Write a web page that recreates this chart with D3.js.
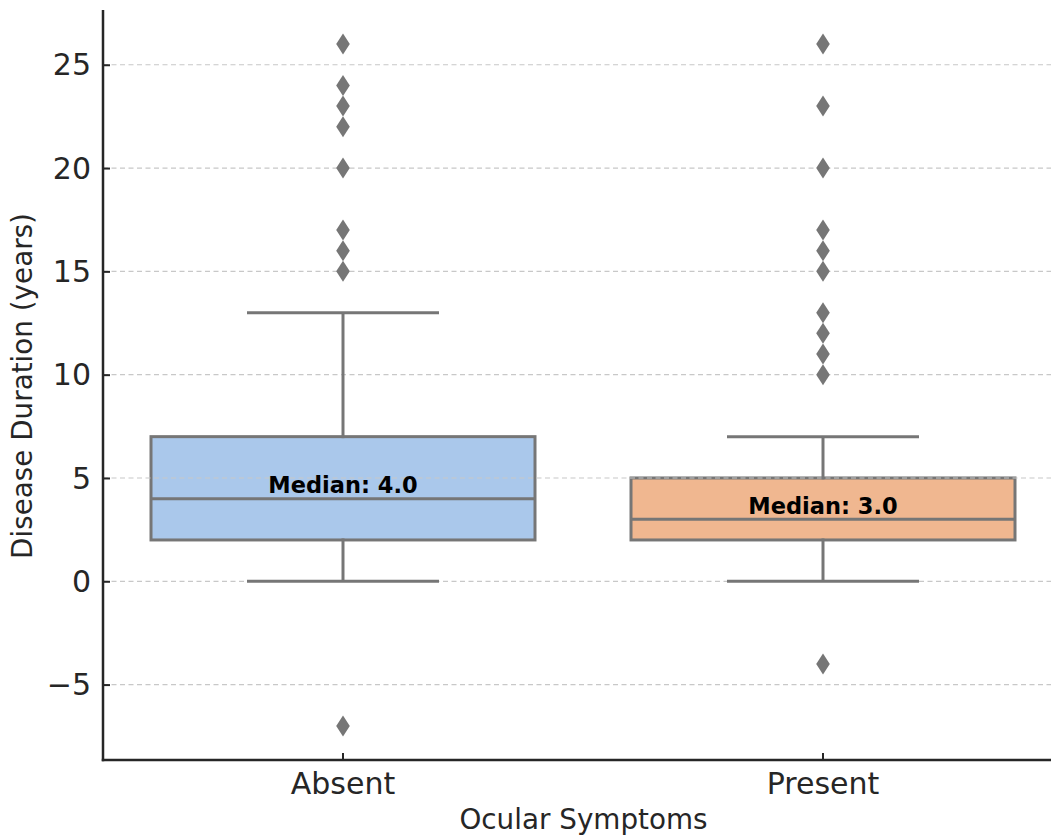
<!DOCTYPE html>
<html>
<head>
<meta charset="utf-8">
<script src="https://cdn.jsdelivr.net/npm/d3@7"></script>
<style>
  body { margin: 0; background: #fff; }
  svg text { font-family: "DejaVu Sans", sans-serif; fill: #262626; }
</style>
</head>
<body>
<svg id="chart" width="1051" height="837"></svg>
<script>
// chart data
const categories = ["Absent", "Present"]
const q1 = [2, 2]
const medians = [4, 3]
const q3 = [7, 5]
const whiskerLow = [0, 0]
const whiskerHigh = [13, 7]
const outliersAbsent = [26, 24, 23, 22, 20, 17, 16, 15, -7]
const outliersPresent = [26, 23, 20, 17, 16, 15, 13, 12, 11, 10, -4]
const yTicks = [-5, 0, 5, 10, 15, 20, 25]
const fills = ["#aac8eb", "#f0b790"]

let boxes = categories.map((c, i) => ({
  cat: c, q1: q1[i], med: medians[i], q3: q3[i],
  lo: whiskerLow[i], hi: whiskerHigh[i], fill: fills[i],
  out: i === 0 ? outliersAbsent : outliersPresent
}))

const svg = d3.select('#chart')
const pLeft = 103, pRight = 1063, pTop = 10, pBottom = 760
const lineCol = '#767676'

let y = d3.scaleLinear().domain([-8.65, 27.65]).range([pBottom, pTop])
let x = d3.scaleBand().domain(categories).range([pLeft, pRight]).padding(0)
let bw = x.bandwidth() * 0.8
let cx = d => x(d) + x.bandwidth() / 2

// boxes
svg.append('g').selectAll('rect').data(boxes).enter().append('rect')
  .attr('x', d => cx(d.cat) - bw / 2)
  .attr('width', bw)
  .attr('y', d => y(d.q3))
  .attr('height', d => y(d.q1) - y(d.q3))
  .attr('fill', d => d.fill)
  .attr('stroke', lineCol)
  .attr('stroke-width', 3)

// grid (sits over the box patches like the original)
svg.append('g').selectAll('line').data(yTicks).enter().append('line')
  .attr('x1', pLeft).attr('x2', pRight)
  .attr('y1', d => y(d)).attr('y2', d => y(d))
  .attr('stroke', '#c8c8c8').attr('stroke-width', 1.2)
  .attr('stroke-dasharray', '5,3.5')

let g = svg.append('g')

// whiskers + caps
g.selectAll('.whisk').data(boxes).enter().append('g').each(function (d) {
  let s = d3.select(this)
  let c = cx(d.cat)
  s.append('line').attr('x1', c).attr('x2', c).attr('y1', y(d.q3) + 1.5).attr('y2', y(d.hi))
  s.append('line').attr('x1', c).attr('x2', c).attr('y1', y(d.q1) - 1.5).attr('y2', y(d.lo))
  s.append('line').attr('x1', c - bw / 4).attr('x2', c + bw / 4).attr('y1', y(d.hi)).attr('y2', y(d.hi))
  s.append('line').attr('x1', c - bw / 4).attr('x2', c + bw / 4).attr('y1', y(d.lo)).attr('y2', y(d.lo))
  s.selectAll('line').attr('stroke', lineCol).attr('stroke-width', 3)
})

// medians
g.selectAll('line.med').data(boxes).enter().append('line')
  .attr('x1', d => cx(d.cat) - bw / 2).attr('x2', d => cx(d.cat) + bw / 2)
  .attr('y1', d => y(d.med)).attr('y2', d => y(d.med))
  .attr('stroke', lineCol).attr('stroke-width', 3)

// outliers
let diamond = (px, py) => `M${px},${py - 10.5}L${px + 6.8},${py}L${px},${py + 10.5}L${px - 6.8},${py}Z`
boxes.forEach(b => {
  g.selectAll(null).data(b.out).enter().append('path')
    .attr('d', v => diamond(cx(b.cat), y(v)))
    .attr('fill', lineCol)
})

// median labels
svg.selectAll('text.medlab').data(boxes).enter().append('text')
  .attr('x', d => cx(d.cat))
  .attr('y', d => y(d.med) - 5.5)
  .attr('text-anchor', 'middle')
  .style('font-weight', 'bold')
  .style('font-size', '22.5px')
  .style('fill', '#000')
  .text(d => 'Median: ' + d.med.toFixed(1))

// axes
let yAxis = d3.axisLeft(y).tickValues(yTicks).tickSizeInner(-7).tickSizeOuter(0).tickPadding(12)
  .tickFormat(d => d < 0 ? '\u2212' + Math.abs(d) : d)
let ya = svg.append('g').attr('transform', `translate(${pLeft},0)`).call(yAxis)
ya.select('.domain').remove()
ya.selectAll('.tick line').attr('stroke', '#262626').attr('stroke-width', 2)
ya.selectAll('.tick text').style('font-size', '30px').attr('dy', '0.34em')

let xAxis = d3.axisBottom(x).tickSizeInner(-7).tickSizeOuter(0).tickPadding(14)
let xa = svg.append('g').attr('transform', `translate(0,${pBottom})`).call(xAxis)
xa.select('.domain').remove()
xa.selectAll('.tick line').attr('stroke', '#262626').attr('stroke-width', 2)
xa.selectAll('.tick text').style('font-size', '30px').attr('dy', '0.68em')

// spines
svg.append('line').attr('x1', pLeft).attr('x2', pLeft).attr('y1', pTop).attr('y2', pBottom + 1.25)
  .attr('stroke', '#262626').attr('stroke-width', 2.5)
svg.append('line').attr('x1', pLeft - 1.25).attr('x2', pRight).attr('y1', pBottom).attr('y2', pBottom)
  .attr('stroke', '#262626').attr('stroke-width', 2.5)

// axis labels
svg.append('text')
  .attr('transform', `translate(32,${(pTop + pBottom) / 2 + 1}) rotate(-90)`)
  .attr('text-anchor', 'middle')
  .style('font-size', '27.8px')
  .text('Disease Duration (years)')

svg.append('text')
  .attr('x', (pLeft + pRight) / 2 + 0.5)
  .attr('y', 829)
  .attr('text-anchor', 'middle')
  .style('font-size', '27.8px')
  .text('Ocular Symptoms')
</script>
</body>
</html>
